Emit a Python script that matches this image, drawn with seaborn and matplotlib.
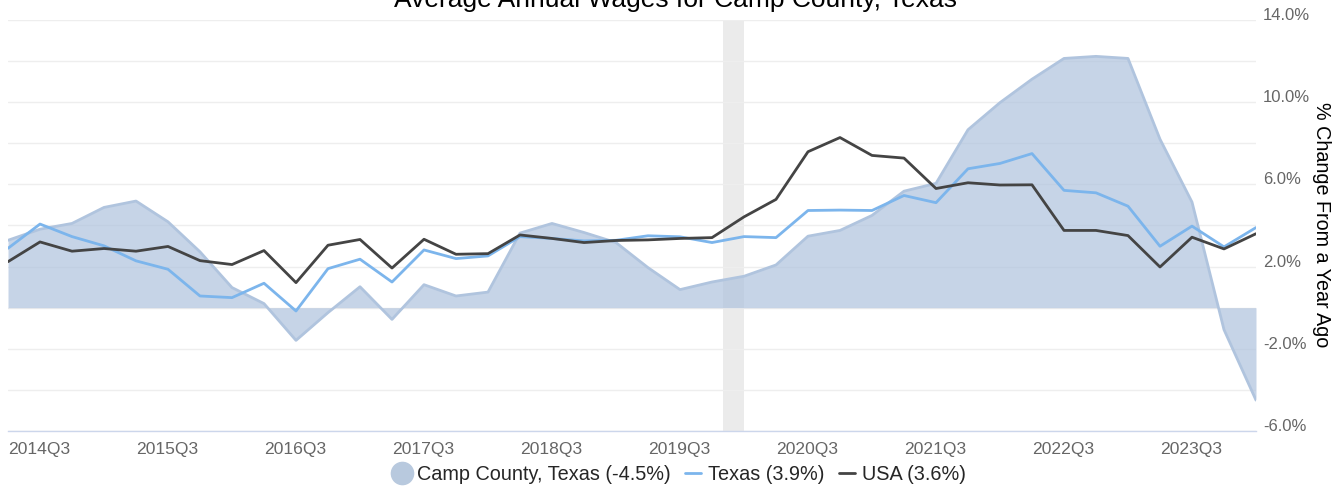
import numpy as np
import matplotlib
matplotlib.use('Agg')
import matplotlib.pyplot as plt
from matplotlib.lines import Line2D
import pandas as pd
import seaborn as sns

# quarterly % change from a year ago, 2014Q3 .. 2024Q2
camp = [3.28, 3.82, 4.10, 4.88, 5.19, 4.18, 2.72, 0.98, 0.20, -1.59,
        -0.24, 1.02, -0.57, 1.12, 0.57, 0.76, 3.63, 4.10, 3.66, 3.17,
        1.95, 0.88, 1.25, 1.53, 2.08, 3.48, 3.76, 4.49, 5.67, 6.05,
        8.66, 9.98, 11.12, 12.13, 12.23, 12.13, 8.20, 5.14, -1.07, -4.5]
texas = [2.89, 4.07, 3.46, 3.01, 2.28, 1.87, 0.57, 0.49, 1.19, -0.16,
         1.90, 2.36, 1.25, 2.81, 2.39, 2.52, 3.46, 3.37, 3.25, 3.28,
         3.50, 3.45, 3.17, 3.46, 3.41, 4.73, 4.75, 4.73, 5.46, 5.11,
         6.76, 7.02, 7.50, 5.71, 5.59, 4.94, 2.99, 3.97, 2.96, 3.9]
usa = [2.24, 3.20, 2.75, 2.88, 2.75, 2.98, 2.29, 2.10, 2.78, 1.22,
       3.04, 3.32, 1.93, 3.33, 2.60, 2.63, 3.54, 3.37, 3.17, 3.27,
       3.30, 3.37, 3.41, 4.42, 5.27, 7.59, 8.28, 7.41, 7.28, 5.80,
       6.08, 5.97, 5.98, 3.76, 3.76, 3.51, 1.98, 3.43, 2.86, 3.6]
tick_labels = ['2014Q3', '2015Q3', '2016Q3', '2017Q3', '2018Q3',
               '2019Q3', '2020Q3', '2021Q3', '2022Q3', '2023Q3']
recession = (22.33, 23.0)  # 2020 recession, in quarter index units

df = pd.DataFrame({'q': np.arange(len(camp)), 'camp': camp, 'texas': texas, 'usa': usa})

sns.set_style('white')
plt.rcParams['font.family'] = ['Liberation Sans', 'DejaVu Sans']

W, H = 1344, 491
fig = plt.figure(figsize=(W / 100, H / 100), dpi=100)
ax = fig.add_axes([8 / W, 1 - 431 / H, 1248 / W, 411 / H])

ax.axvspan(*recession, color='#ebebeb', lw=0, zorder=0)
for v in range(-6, 15, 2):
    ax.axhline(v, color='#eeeeee', lw=1, zorder=0.5)

ax.fill_between(df['q'], df['camp'], 0, color='#b0c4de', alpha=0.72, lw=0, zorder=1)
sns.lineplot(data=df, x='q', y='camp', ax=ax, color='#b0c4de', lw=2, zorder=1.5)
sns.lineplot(data=df, x='q', y='texas', ax=ax, color='#7cb5ec', lw=2, zorder=2)
sns.lineplot(data=df, x='q', y='usa', ax=ax, color='#444444', lw=2, zorder=3)

ax.set_xlim(0, len(camp) - 1)
ax.set_ylim(-6, 14)
ax.set_xlabel('')
ax.set_ylabel('')

ax.set_xticks(np.arange(0, len(camp), 4))
ax.set_xticklabels(tick_labels, ha='left', color='#666666', fontsize=12.6)
ax.tick_params(axis='x', length=6, width=1, color='#ccd6eb', pad=2, direction='out')

yt = np.arange(-6, 15, 4)
ax.set_yticks(yt)
ax.set_yticklabels([f'{v:.1f}%' for v in yt], color='#666666', fontsize=12, va='baseline')
ax.yaxis.tick_right()
ax.tick_params(axis='y', length=0, pad=5)

for s in ['top', 'left', 'right']:
    ax.spines[s].set_visible(False)
ax.spines['bottom'].set_color('#ccd6eb')
ax.spines['bottom'].set_linewidth(1)

fig.text(675 / W, 1 - 7 / H, 'Average Annual Wages for Camp County, Texas',
         ha='center', va='baseline', fontsize=19, color='#000000')
fig.text(1322 / W, 1 - 225 / H, '% Change From a Year Ago', rotation=270,
         ha='center', va='center', fontsize=14.2, color='#000000')

handles = [
    Line2D([], [], ls='none', marker='o', markersize=16, color='#b8c9de'),
    Line2D([], [], color='#7cb5ec', lw=2),
    Line2D([], [], color='#444444', lw=2),
]
labels = ['Camp County, Texas (-4.5%)', 'Texas (3.9%)', 'USA (3.6%)']
fig.legend(handles, labels, loc='center', bbox_to_anchor=(680 / W, 1 - 474 / H),
           ncol=3, frameon=False, fontsize=14.3, handlelength=0.8,
           handletextpad=0.35, columnspacing=0.75, borderaxespad=0)

fig.savefig('out.png', dpi=100)
